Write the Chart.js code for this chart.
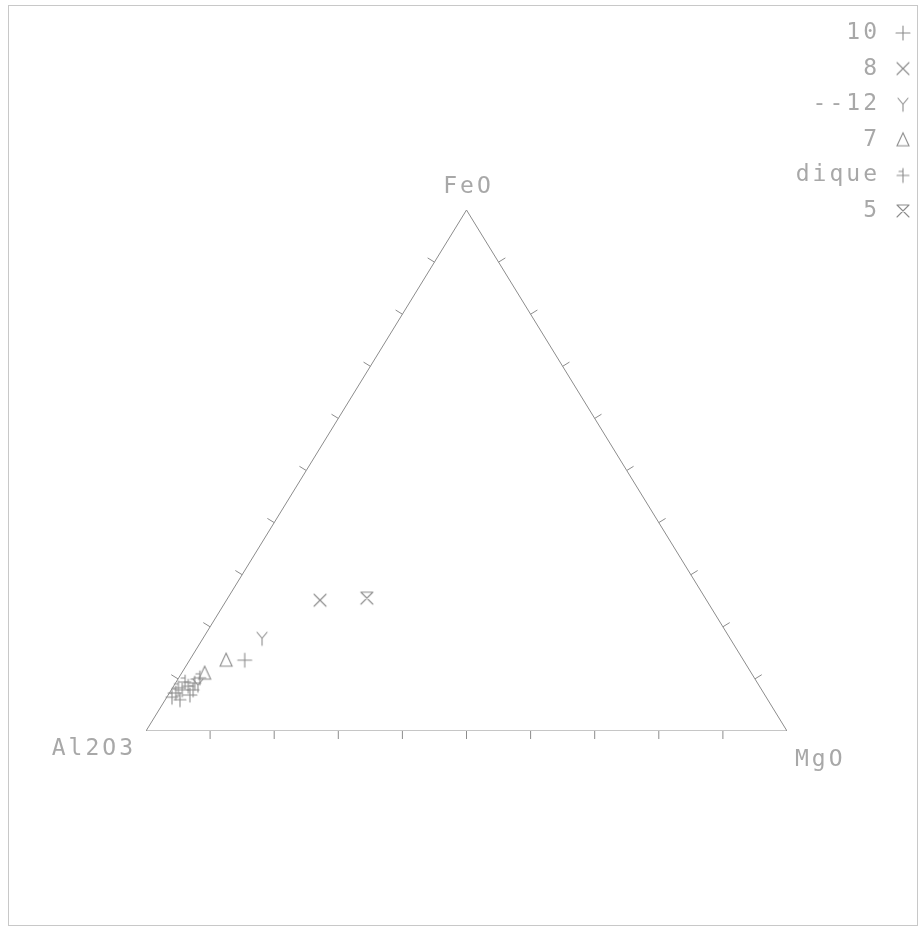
<!DOCTYPE html>
<html>
<head>
<meta charset="utf-8">
<script src="https://cdn.jsdelivr.net/npm/chart.js@4.4.1/dist/chart.umd.min.js"></script>
<style>
  html, body { margin: 0; padding: 0; background: #ffffff; }
  #wrap { width: 920px; height: 933px; position: relative; }
</style>
</head>
<body>
<div id="wrap"><canvas id="c" width="920" height="933"></canvas></div>
<script>
// Ternary compositions in percent, each point given as [Al2O3, MgO, FeO]
const apexNames = ['Al2O3', 'MgO', 'FeO'];
const seriesNames = ['10', '8', '--12', '7', 'dique', '5'];

const s10   = [[77.8, 8.6, 13.6], [89.7, 3.4, 6.9], [90.4, 1.7, 7.9]];
const s8    = [[60.3, 14.6, 25.1]];
const s12   = [[73.0, 9.2, 17.8], [87.5, 3.7, 8.8]];
const s7    = [[80.7, 5.7, 13.6], [85.3, 3.6, 11.1]];
const sDique = [[86.5, 3.3, 10.2], [87.8, 3.0, 9.2], [89.1, 2.3, 8.6], [91.7, 1.0, 7.3],
                [92.7, 0.8, 6.5], [91.7, 2.3, 6.0], [89.2, 1.4, 9.4], [88.7, 3.4, 7.9],
                [90.8, 0.9, 8.3]];
const s5    = [[52.8, 21.7, 25.5]];

// Graduations along each side, in percent
const gradSteps = [10, 20, 30, 40, 50, 60, 70, 80, 90];

const INK = '#8c8c8c';
const TEXT = '#a8a8a8';

// Al2O3 at lower left, MgO at lower right, FeO at top
function toXY(c) {
  const tot = c[0] + c[1] + c[2];
  const mg = c[1] / tot, fe = c[2] / tot;
  return { x: mg + fe / 2, y: fe };
}

// Plotter-style marker glyphs
function glyph(drawFn) {
  const cv = document.createElement('canvas');
  cv.width = 20; cv.height = 20;
  const g = cv.getContext('2d');
  g.strokeStyle = INK;
  g.lineWidth = 1.1;
  g.lineCap = 'round';
  g.beginPath();
  drawFn(g, 10);
  g.stroke();
  return cv;
}
const glyphs = [
  glyph((g, c) => { g.moveTo(c - 7, c); g.lineTo(c + 7, c); g.moveTo(c, c - 7); g.lineTo(c, c + 7); }),
  glyph((g, c) => { g.moveTo(c - 6, c - 6); g.lineTo(c + 6, c + 6); g.moveTo(c + 6, c - 6); g.lineTo(c - 6, c + 6); }),
  glyph((g, c) => { g.moveTo(c - 5, c - 6); g.lineTo(c, c); g.lineTo(c + 5, c - 6); g.moveTo(c, c); g.lineTo(c, c + 7); }),
  glyph((g, c) => { g.moveTo(c, c - 7); g.lineTo(c + 6, c + 6); g.lineTo(c - 6, c + 6); g.closePath(); }),
  glyph((g, c) => { g.moveTo(c - 6, c); g.lineTo(c + 6, c); g.moveTo(c, c - 7); g.lineTo(c, c + 7);
                    g.moveTo(c - 4, c - 4); g.lineTo(c, c - 4); }),
  glyph((g, c) => { g.moveTo(c - 6, c - 6); g.lineTo(c + 6, c + 6); g.moveTo(c + 6, c - 6); g.lineTo(c - 6, c + 6);
                    g.moveTo(c - 6, c - 6); g.lineTo(c + 6, c - 6); })
];

const allSeries = [s10, s8, s12, s7, sDique, s5];

const outline = [[100, 0, 0], [0, 100, 0], [0, 0, 100], [100, 0, 0]].map(toXY);

const datasets = [{
  type: 'line',
  data: outline,
  borderColor: INK,
  borderWidth: 1,
  pointRadius: 0,
  fill: false,
  tension: 0
}];
allSeries.forEach((s, i) => {
  datasets.push({
    label: seriesNames[i],
    data: s.map(toXY),
    pointStyle: glyphs[i],
    pointRadius: 8,
    showLine: false
  });
});

const decor = {
  id: 'decor',
  afterDraw(chart) {
    const ctx = chart.ctx;
    const xs = chart.scales.x, ys = chart.scales.y;
    const px = c => { const p = toXY(c); return [xs.getPixelForValue(p.x), ys.getPixelForValue(p.y)]; };

    ctx.save();
    // sheet frame
    ctx.strokeStyle = '#c8c8c8';
    ctx.lineWidth = 1;
    ctx.strokeRect(8.5, 5.5, 909, 920);

    // graduations, drawn outward from each side
    ctx.strokeStyle = INK;
    ctx.lineWidth = 1;
    const sides = [
      { from: [100, 0, 0], to: [0, 100, 0] },
      { from: [0, 100, 0], to: [0, 0, 100] },
      { from: [0, 0, 100], to: [100, 0, 0] }
    ];
    const [cx, cy] = px([100 / 3, 100 / 3, 100 / 3]);
    sides.forEach(sd => {
      const [ax, ay] = px(sd.from), [bx, by] = px(sd.to);
      let nx = by - ay, ny = -(bx - ax);
      const len = Math.hypot(nx, ny); nx /= len; ny /= len;
      const mx = (ax + bx) / 2, my = (ay + by) / 2;
      if ((cx - mx) * nx + (cy - my) * ny > 0) { nx = -nx; ny = -ny; }
      gradSteps.forEach(t => {
        const f = t / 100;
        const c = sd.from.map((v, k) => v * (1 - f) + sd.to[k] * f);
        const [tx, ty] = px(c);
        ctx.beginPath();
        ctx.moveTo(tx, ty);
        ctx.lineTo(tx + nx * 8, ty + ny * 8);
        ctx.stroke();
      });
    });

    // apex names
    ctx.fillStyle = TEXT;
    ctx.font = '23px "DejaVu Sans Mono"';
    ctx.letterSpacing = '3px';
    ctx.textBaseline = 'middle';
    const [alx, aly] = px([100, 0, 0]);
    const [mgx, mgy] = px([0, 100, 0]);
    const [fex, fey] = px([0, 0, 100]);
    ctx.textAlign = 'right';
    ctx.fillText(apexNames[0], alx - 10, aly + 18);
    ctx.textAlign = 'left';
    ctx.fillText(apexNames[1], mgx + 8, mgy + 29);
    ctx.textAlign = 'center';
    ctx.fillText(apexNames[2], fex + 2, fey - 23);

    // key, top right
    ctx.textAlign = 'right';
    seriesNames.forEach((nm, i) => {
      const y = 33 + i * 35.6;
      ctx.fillText(nm, 880, y);
      ctx.drawImage(glyphs[i], 903 - 10, y - 10);
    });
    ctx.restore();
  }
};

new Chart(document.getElementById('c'), {
  type: 'scatter',
  data: { datasets },
  options: {
    responsive: false,
    animation: false,
    devicePixelRatio: 1,
    layout: { padding: { left: 146, right: 133, top: 210, bottom: 202 } },
    scales: {
      x: { type: 'linear', min: 0, max: 1, display: false },
      y: { type: 'linear', min: 0, max: 1, display: false }
    },
    plugins: { legend: { display: false }, tooltip: { enabled: false } }
  },
  plugins: [decor]
});
</script>
</body>
</html>
